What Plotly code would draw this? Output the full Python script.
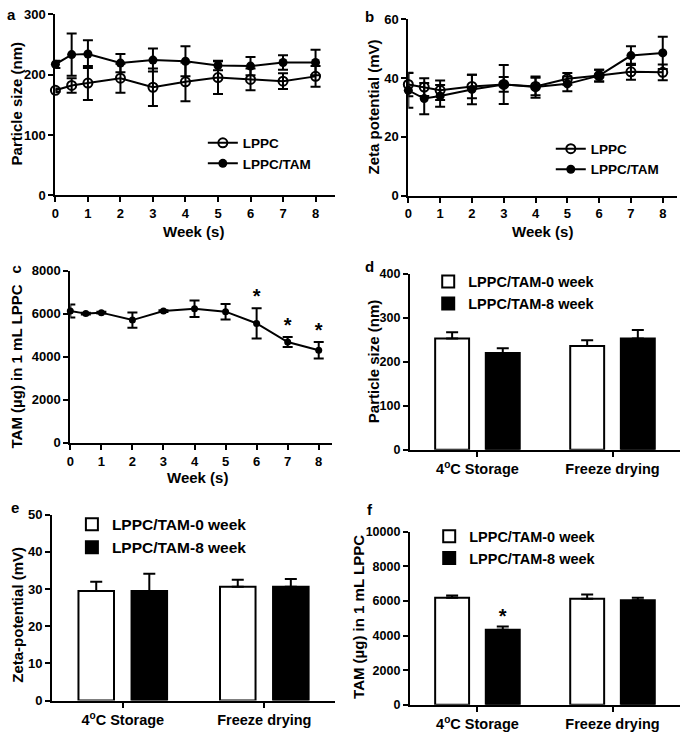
import plotly.graph_objects as go

# ---------------- data ----------------
weeks = [0, 0.5, 1, 2, 3, 4, 5, 6, 7, 8]
week_ticks = [0, 1, 2, 3, 4, 5, 6, 7, 8]

size_lppc = [174, 182, 186, 194, 179, 188, 195, 192, 189, 197]
size_lppc_err = [3, 12, 28, 24, 31, 32, 27, 18, 13, 17]
size_tam = [217, 233, 234, 219, 224, 222, 215, 214, 220, 220]
size_tam_err = [6, 35, 23, 15, 19, 25, 8, 15, 12, 21]

zeta_lppc = [37.8, 36.9, 35.8, 37.1, 37.8, 37.1, 39.7, 40.8, 42.1, 41.9]
zeta_lppc_err = [4.0, 3.0, 3.3, 4.0, 2.5, 3.0, 2.0, 2.0, 2.7, 2.7]
zeta_tam = [35.8, 33.0, 33.9, 36.1, 37.8, 36.9, 38.0, 40.8, 47.6, 48.5]
zeta_tam_err = [5.9, 5.3, 3.7, 5.0, 6.6, 3.6, 2.5, 2.0, 3.2, 5.5]

tam_content = [6120, 6000, 6045, 5700, 6120, 6225, 6090, 5545, 4680, 4300]
tam_content_err = [300, 40, 40, 350, 40, 380, 360, 700, 230, 380]
tam_sig_idx = [7, 8, 9]  # weeks 6, 7, 8 marked *

conditions = ["4<sup>o</sup>C Storage", "Freeze drying"]
d_week0 = [253, 236]
d_week0_err = [14, 13]
d_week8 = [220, 253]
d_week8_err = [11, 19]

e_week0 = [29.5, 30.6]
e_week0_err = [2.5, 1.9]
e_week8 = [29.5, 30.6]
e_week8_err = [4.6, 2.1]

f_week0 = [6190, 6130]
f_week0_err = [130, 245]
f_week8 = [4340, 6040]
f_week8_err = [190, 150]
f_week8_mark = ["*", None]  # significance marks on 8-week bars

# ---------------- style ----------------
FONT = "Arial, Liberation Sans, sans-serif"
W, H = 685, 736


def fx(p):
    return p / W


def fy(p):
    return 1 - p / H


def font(size):
    return dict(family=FONT, size=size, color="black", weight="bold")


def axis(domain, rng, **kw):
    d = dict(domain=domain, range=rng, showline=True, linecolor="black", linewidth=2,
             ticks="outside", ticklen=5, tickwidth=2, tickcolor="black",
             showgrid=False, zeroline=False, tickfont=font(13), fixedrange=True)
    d.update(kw)
    return d


def err(arr, **kw):
    d = dict(type="data", array=arr, color="black", thickness=2, width=5, visible=True)
    d.update(kw)
    return d


fig = go.Figure()

# panel a
fig.add_trace(go.Scatter(x=weeks, y=size_lppc, error_y=err(size_lppc_err), mode="lines+markers",
                         name="LPPC", line=dict(color="black", width=2),
                         marker=dict(symbol="circle-open", size=9, color="black", line=dict(width=2, color="black")),
                         xaxis="x", yaxis="y", legend="legend", cliponaxis=False))
fig.add_trace(go.Scatter(x=weeks, y=size_tam, error_y=err(size_tam_err), mode="lines+markers",
                         name="LPPC/TAM", line=dict(color="black", width=2),
                         marker=dict(symbol="circle", size=9, color="black"),
                         xaxis="x", yaxis="y", legend="legend", cliponaxis=False))
# panel b
fig.add_trace(go.Scatter(x=weeks, y=zeta_lppc, error_y=err(zeta_lppc_err), mode="lines+markers",
                         name="LPPC", line=dict(color="black", width=2),
                         marker=dict(symbol="circle-open", size=9, color="black", line=dict(width=2, color="black")),
                         xaxis="x2", yaxis="y2", legend="legend2", cliponaxis=False))
fig.add_trace(go.Scatter(x=weeks, y=zeta_tam, error_y=err(zeta_tam_err), mode="lines+markers",
                         name="LPPC/TAM", line=dict(color="black", width=2),
                         marker=dict(symbol="circle", size=9, color="black"),
                         xaxis="x2", yaxis="y2", legend="legend2", cliponaxis=False))
# panel c
fig.add_trace(go.Scatter(x=weeks, y=tam_content, error_y=err(tam_content_err), mode="lines+markers",
                         name="LPPC/TAM", line=dict(color="black", width=2),
                         marker=dict(symbol="circle", size=7, color="black"),
                         xaxis="x3", yaxis="y3", showlegend=False, cliponaxis=False))
fig.add_trace(go.Scatter(x=[weeks[i] for i in tam_sig_idx],
                         y=[tam_content[i] + tam_content_err[i] for i in tam_sig_idx],
                         mode="text", text=["*"] * len(tam_sig_idx), textposition="top center",
                         textfont=font(20), xaxis="x3", yaxis="y3", showlegend=False, cliponaxis=False))


def bars(y0, e0, y8, e8, xa, ya, lg, mark8=None):
    fig.add_trace(go.Bar(x=conditions, y=y0, name="LPPC/TAM-0 week",
                         error_y=err(e0, symmetric=False, arrayminus=[0] * len(e0), width=6),
                         marker=dict(color="white", line=dict(color="black", width=2)),
                         xaxis=xa, yaxis=ya, legend=lg))
    kw = {}
    if mark8 is not None:
        kw = dict(text=mark8, textposition="outside", textfont=font(20), cliponaxis=False,
                  constraintext="none")
    fig.add_trace(go.Bar(x=conditions, y=y8, name="LPPC/TAM-8 week",
                         error_y=err(e8, symmetric=False, arrayminus=[0] * len(e8), width=6),
                         marker=dict(color="black", line=dict(color="black", width=2)),
                         xaxis=xa, yaxis=ya, legend=lg, **kw))


bars(d_week0, d_week0_err, d_week8, d_week8_err, "x4", "y4", "legend3")
bars(e_week0, e_week0_err, e_week8, e_week8_err, "x5", "y5", "legend4")
bars(f_week0, f_week0_err, f_week8, f_week8_err, "x6", "y6", "legend5", mark8=f_week8_mark)

cat_axis = dict(type="category", tickfont=font(14.5))


def legend(left, top, size):
    return dict(x=fx(left), y=fy(top), xanchor="left", yanchor="top", font=font(size),
                bgcolor="rgba(0,0,0,0)", borderwidth=0, tracegroupgap=0, itemclick=False,
                itemdoubleclick=False)


fig.update_layout(
    width=W, height=H, margin=dict(l=0, r=0, t=0, b=0),
    paper_bgcolor="white", plot_bgcolor="white",
    font=font(13), barmode="group", bargap=0.25, bargroupgap=0.33,
    xaxis=axis([fx(51.7), fx(333)], [0, 8.6], tickvals=week_ticks, anchor="y"),
    yaxis=axis([fy(192.3), fy(7.3)], [0, 300], tickvals=[0, 100, 200, 300], anchor="x"),
    xaxis2=axis([fx(406.7), fx(676.7)], [0, 8.44], tickvals=week_ticks, anchor="y2"),
    yaxis2=axis([fy(192.7), fy(12.3)], [0, 60], tickvals=[0, 20, 40, 60], anchor="x2"),
    xaxis3=axis([fx(66.7), fx(330)], [0, 8.43], tickvals=week_ticks, anchor="y3"),
    yaxis3=axis([fy(445), fy(269)], [0, 8000], tickvals=[0, 2000, 4000, 6000, 8000], anchor="x3"),
    xaxis4=axis([fx(408.3), fx(680)], [-0.5, 1.5], anchor="y4", **cat_axis),
    yaxis4=axis([fy(452), fy(272.3)], [0, 400], tickvals=[0, 100, 200, 300, 400], anchor="x4", tickfont=font(12.5)),
    xaxis5=axis([fx(48.3), fx(333)], [-0.5, 1.5], anchor="y5", **cat_axis),
    yaxis5=axis([fy(708), fy(518.3)], [0, 50], tickvals=[0, 10, 20, 30, 40, 50], anchor="x5"),
    xaxis6=axis([fx(408.3), fx(680)], [-0.5, 1.5], anchor="y6", **cat_axis),
    yaxis6=axis([fy(712.3), fy(535.7)], [0, 10000], tickvals=[0, 2000, 4000, 6000, 8000, 10000],
                tickformat="d", anchor="x6", tickfont=font(12.5)),
    legend=legend(200, 123, 13.5),
    legend2=legend(550, 129, 13.5),
    legend3=legend(426.7, 264, 14.5),
    legend4=legend(68.3, 511, 15.5),
    legend5=legend(427.7, 524, 14.5),
    showlegend=True,
)

annotations = [
    # panel letters
    dict(text="a", x=fx(8), y=fy(8)),
    dict(text="b", x=fx(368), y=fy(10)),
    dict(text="c", x=fx(12), y=fy(268), textangle=-90),
    dict(text="d", x=fx(368), y=fy(265)),
    dict(text="e", x=fx(11), y=fy(511)),
    dict(text="f", x=fx(368), y=fy(513)),
    # y titles
    dict(text="Particle size (nm)", x=fx(13.5), y=fy(99), textangle=-90),
    dict(text="Zeta potential (mV)", x=fx(371.7), y=fy(102), textangle=-90),
    dict(text="TAM (\u00b5g) in 1 mL LPPC", x=fx(13), y=fy(367), textangle=-90),
    dict(text="Particle size (nm)", x=fx(371.7), y=fy(362), textangle=-90),
    dict(text="Zeta-potential (mV)", x=fx(13.5), y=fy(620), textangle=-90),
    dict(text="TAM (\u00b5g) in 1 mL LPPC", x=fx(356.7), y=fy(623), textangle=-90),
    # x titles
    dict(text="Week (s)", x=fx(191), y=fy(229)),
    dict(text="Week (s)", x=fx(541.7), y=fy(229)),
    dict(text="Week (s)", x=fx(195), y=fy(480)),
]
for a in annotations:
    a.update(xref="paper", yref="paper", xanchor="center", yanchor="middle", showarrow=False,
             font=font(15))
fig.update_layout(annotations=annotations)

fig.write_html("out.html", config={"displayModeBar": False},
               post_script="document.body.style.margin='0';")
